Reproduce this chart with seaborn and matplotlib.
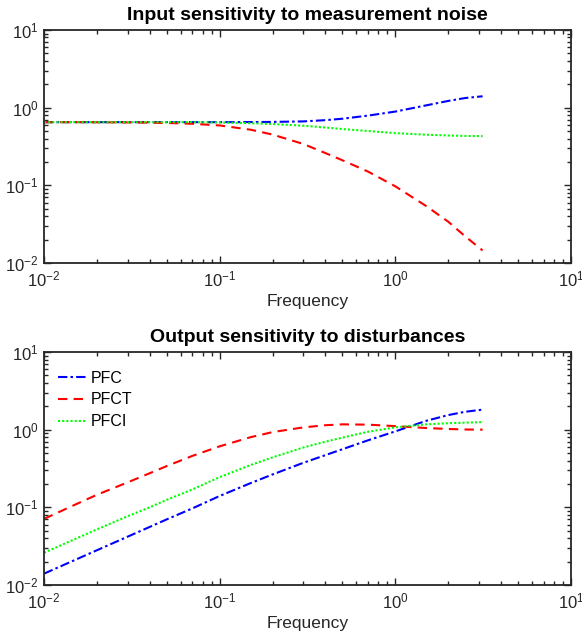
import numpy as np
import pandas as pd
import matplotlib
matplotlib.use("Agg")
import matplotlib.pyplot as plt
import seaborn as sns
from matplotlib.ticker import LogLocator, LogFormatterSciNotation, NullFormatter

# ---- data ----
freq = [0.01, 0.015, 0.02, 0.03, 0.04, 0.05, 0.07, 0.1, 0.15, 0.2, 0.3, 0.4, 0.5, 0.7,
        1.0, 1.5, 2.0, 2.5, 3.14]

# Input sensitivity to measurement noise
in_pfc = [0.65, 0.65, 0.65, 0.65, 0.65, 0.65, 0.65, 0.65, 0.652, 0.655, 0.665, 0.69, 0.72, 0.79,
          0.89, 1.07, 1.22, 1.33, 1.40]
in_pfct = [0.65, 0.65, 0.648, 0.645, 0.64, 0.635, 0.62, 0.59, 0.52, 0.45, 0.34, 0.26, 0.21, 0.15,
           0.097, 0.054, 0.034, 0.022, 0.0145]
in_pfci = [0.65, 0.65, 0.65, 0.65, 0.65, 0.65, 0.65, 0.645, 0.63, 0.615, 0.585, 0.555, 0.53, 0.50,
           0.47, 0.448, 0.438, 0.432, 0.43]

# Output sensitivity to disturbances
out_pfc = [0.014, 0.021, 0.028, 0.042, 0.056, 0.07, 0.097, 0.14, 0.205, 0.265, 0.375, 0.47, 0.56, 0.73,
           0.95, 1.30, 1.54, 1.70, 1.81]
out_pfct = [0.071, 0.108, 0.145, 0.21, 0.275, 0.34, 0.46, 0.61, 0.80, 0.93, 1.07, 1.14, 1.17, 1.16,
            1.11, 1.05, 1.02, 1.005, 1.0]
out_pfci = [0.026, 0.039, 0.052, 0.077, 0.10, 0.125, 0.17, 0.245, 0.35, 0.44, 0.59, 0.70, 0.79, 0.94,
            1.07, 1.17, 1.21, 1.23, 1.25]

series_names = ["PFC", "PFCT", "PFCI"]
titles = ["Input sensitivity to measurement noise", "Output sensitivity to disturbances"]
x_label = "Frequency"

def long_df(values):
    rows = []
    for name, vals in zip(series_names, values):
        for f, v in zip(freq, vals):
            rows.append({"Frequency": f, "value": v, "series": name})
    return pd.DataFrame(rows)

df_in = long_df([in_pfc, in_pfct, in_pfci])
df_out = long_df([out_pfc, out_pfct, out_pfci])

# ---- style ----
sns.set_style("ticks")
plt.rcParams["font.family"] = ["Liberation Sans", "DejaVu Sans"]
plt.rcParams["mathtext.fontset"] = "custom"
plt.rcParams["mathtext.rm"] = "Liberation Sans"
plt.rcParams["mathtext.it"] = "Liberation Sans:italic"
plt.rcParams["mathtext.bf"] = "Liberation Sans:bold"

palette = {"PFC": "#0000ff", "PFCT": "#ff0000", "PFCI": "#00ff00"}
dashes = {"PFC": (4.5, 1.5, 1.2, 1.5), "PFCT": (4.5, 3.0), "PFCI": (1.0, 1.0)}

fig = plt.figure(figsize=(5.82, 6.43), dpi=100)
ax_top = fig.add_axes([0.0756, 0.591, 0.9055, 0.3624])
ax_bot = fig.add_axes([0.0756, 0.0902, 0.9055, 0.3624])

dark = "#262626"
for ax, df, title, show_legend in [(ax_top, df_in, titles[0], False), (ax_bot, df_out, titles[1], True)]:
    sns.lineplot(data=df, x="Frequency", y="value", hue="series", style="series",
                 palette=palette, dashes=dashes, linewidth=1.5, ax=ax,
                 legend=show_legend, sort=False, estimator=None)
    ax.set_xscale("log")
    ax.set_yscale("log")
    ax.set_xlim(1e-2, 1e1)
    ax.set_ylim(1e-2, 1e1)
    ax.set_title(title, fontsize=14, fontweight="bold", color="black", pad=7.5)
    ax.set_xlabel(x_label, fontsize=12.5, color=dark, labelpad=3)
    ax.set_ylabel("")
    for a in (ax.xaxis, ax.yaxis):
        a.set_major_locator(LogLocator(base=10, numticks=10))
        a.set_minor_locator(LogLocator(base=10, subs=np.arange(2, 10), numticks=10))
        a.set_major_formatter(LogFormatterSciNotation())
        a.set_minor_formatter(NullFormatter())
    ax.tick_params(which="both", direction="in", top=True, right=True, colors=dark,
                   labelsize=12, width=1.0)
    ax.tick_params(which="major", length=5)
    ax.tick_params(which="minor", length=3)
    ax.tick_params(axis="x", pad=5)
    ax.tick_params(axis="y", pad=4)
    for sp in ax.spines.values():
        sp.set_visible(True)
        sp.set_color(dark)
        sp.set_linewidth(1.3)
    ax.set_facecolor("white")

leg = ax_bot.legend(loc="upper left", frameon=False, fontsize=11.5,
                    handlelength=1.75, handletextpad=0.25, labelspacing=0.43,
                    borderaxespad=0.3, bbox_to_anchor=(0.006, 0.968))
for t in leg.get_texts():
    t.set_color("black")

fig.savefig("out.png", dpi=100, facecolor="white")
